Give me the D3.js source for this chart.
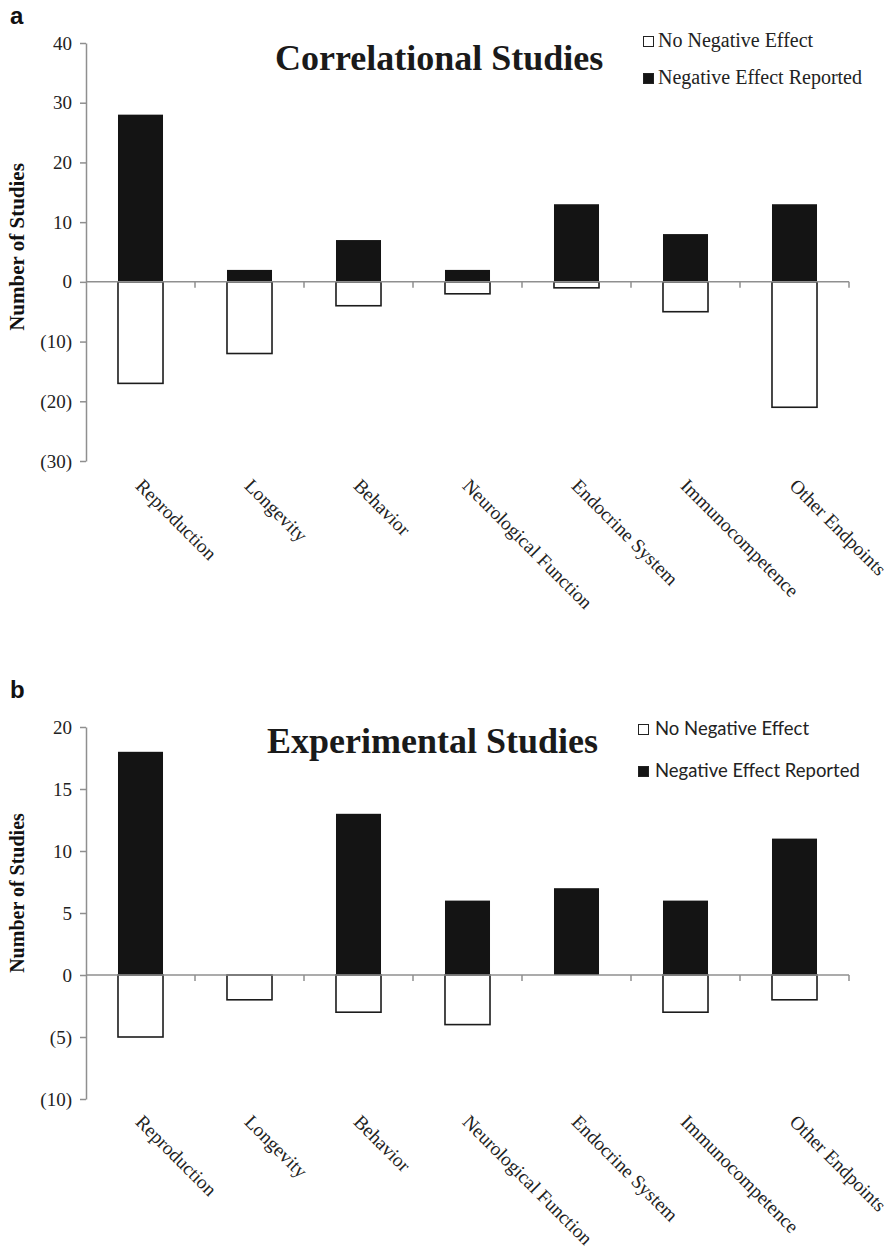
<!DOCTYPE html>
<html><head><meta charset="utf-8">
<script src="https://cdn.jsdelivr.net/npm/d3@7"></script>
<style>body{margin:0;background:#fff}</style></head>
<body><svg id="c" width="893" height="1255"></svg>
<script>
const categories = ["Reproduction","Longevity","Behavior","Neurological Function","Endocrine System","Immunocompetence","Other Endpoints"];
const corrNegative = [28,2,7,2,13,8,13];
const corrNoNegative = [17,12,4,2,1,5,21];
const expNegative = [18,0,13,6,7,6,11];
const expNoNegative = [5,2,3,4,0,3,2];
const corrTicks = [40,30,20,10,0,-10,-20,-30];
const expTicks = [20,15,10,5,0,-5,-10];
const legendLabels = ["No Negative Effect","Negative Effect Reported"];
const titles = ["Correlational Studies","Experimental Studies"];
const panelLetters = ["a","b"];
const yTitle = "Number of Studies";

const svg = d3.select("#c");
const SERIF = "'Liberation Serif','Times New Roman',serif";
const SANS = "'Liberation Sans',Arial,sans-serif";
const AXIS = "#8f8f8f";

const panels = [
  {neg: corrNegative, no: corrNoNegative, ticks: corrTicks, domain:[-30,40], top:43, bottom:461,
   title: titles[0], titleX:275, titleY:70, letter: panelLetters[0], letterY:24, yTitleY:247, yTitleSize:21,
   legFont: SERIF, legSize:20, legX:643, legTextX:658, legY:[47,84], labDy:26},
  {neg: expNegative, no: expNoNegative, ticks: expTicks, domain:[-10,20], top:727, bottom:1099,
   title: titles[1], titleX:267, titleY:753, letter: panelLetters[1], letterY:698, yTitleY:893, yTitleSize:20,
   legFont: "Lato,'Open Sans',sans-serif", legSize:18.5, legX:638, legTextX:655, legY:[735,777], labDy:24}
];

const left = 86, right = 849;
const fmt = v => v < 0 ? "(" + Math.abs(v) + ")" : String(v);

panels.forEach(p => {
  const g = svg.append("g");
  const x = d3.scaleBand().domain(categories).range([left, right]).paddingInner(0.587).paddingOuter(0.2935);
  const y = d3.scaleLinear().domain(p.domain).range([p.bottom, p.top]);
  const data = categories.map((c,i) => ({c, neg: p.neg[i], no: p.no[i]}));

  // bars
  g.selectAll(".neg").data(data.filter(d => d.neg > 0)).join("rect")
    .attr("x", d => x(d.c)).attr("width", x.bandwidth())
    .attr("y", d => y(d.neg)).attr("height", d => y(0) - y(d.neg))
    .attr("fill", "#141414");
  g.selectAll(".no").data(data.filter(d => d.no > 0)).join("rect")
    .attr("x", d => x(d.c)).attr("width", x.bandwidth())
    .attr("y", y(0)).attr("height", d => y(-d.no) - y(0))
    .attr("fill", "#fff").attr("stroke", "#1c1c1c").attr("stroke-width", 1.6);

  // y axis
  const yAxis = d3.axisLeft(y).tickValues(p.ticks).tickFormat(fmt).tickSize(6).tickSizeOuter(0).tickPadding(8);
  const ya = g.append("g").attr("transform", `translate(${left},0)`).call(yAxis)
    .attr("font-family", SERIF).attr("font-size", 19);
  ya.select(".domain").attr("stroke", AXIS).attr("stroke-width", 1.5);
  ya.selectAll(".tick line").attr("stroke", AXIS).attr("stroke-width", 1.5);
  ya.selectAll(".tick text").attr("font-family", SERIF).attr("font-size", 19).attr("fill", "#222");

  // zero line with ticks between categories
  const boundaries = categories.map((c,i) => left + (i+1) * x.step());
  const xa = g.append("g");
  xa.append("line").attr("x1", left).attr("x2", right).attr("y1", y(0)).attr("y2", y(0))
    .attr("stroke", AXIS).attr("stroke-width", 1.5);
  xa.selectAll(".bt").data(boundaries).join("line")
    .attr("x1", d => d).attr("x2", d => d).attr("y1", y(0)).attr("y2", y(0) + 6)
    .attr("stroke", AXIS).attr("stroke-width", 1.5);

  // category labels
  g.selectAll(".cl").data(categories).join("text")
    .attr("transform", d => `translate(${x(d) + x.bandwidth()/2 - 6},${p.bottom + p.labDy}) rotate(45)`)
    .attr("font-family", SERIF).attr("font-size", 19.3).attr("fill", "#222")
    .text(d => d);

  // title
  g.append("text").attr("x", p.titleX).attr("y", p.titleY)
    .attr("font-family", SERIF).attr("font-weight", "bold").attr("font-size", 36).attr("fill", "#1a1a1a")
    .text(p.title);

  // panel letter
  g.append("text").attr("x", 10).attr("y", p.letterY)
    .attr("font-family", SANS).attr("font-weight", "bold").attr("font-size", 24).attr("fill", "#111")
    .text(p.letter);

  // y title
  g.append("text").attr("transform", `translate(24,${p.yTitleY}) rotate(-90)`)
    .attr("text-anchor", "middle")
    .attr("font-family", SERIF).attr("font-weight", "bold").attr("font-size", p.yTitleSize).attr("fill", "#111")
    .text(yTitle);

  // legend
  const leg = g.append("g");
  legendLabels.forEach((lab, i) => {
    leg.append("rect").attr("x", p.legX + 0.5).attr("y", p.legY[i] - 10.5).attr("width", 10).attr("height", 10)
      .attr("fill", i === 0 ? "#fff" : "#141414").attr("stroke", "#222").attr("stroke-width", 1);
    leg.append("text").attr("x", p.legTextX).attr("y", p.legY[i])
      .attr("font-family", p.legFont).attr("font-size", p.legSize).attr("fill", "#222").text(lab);
  });
});
</script></body></html>
